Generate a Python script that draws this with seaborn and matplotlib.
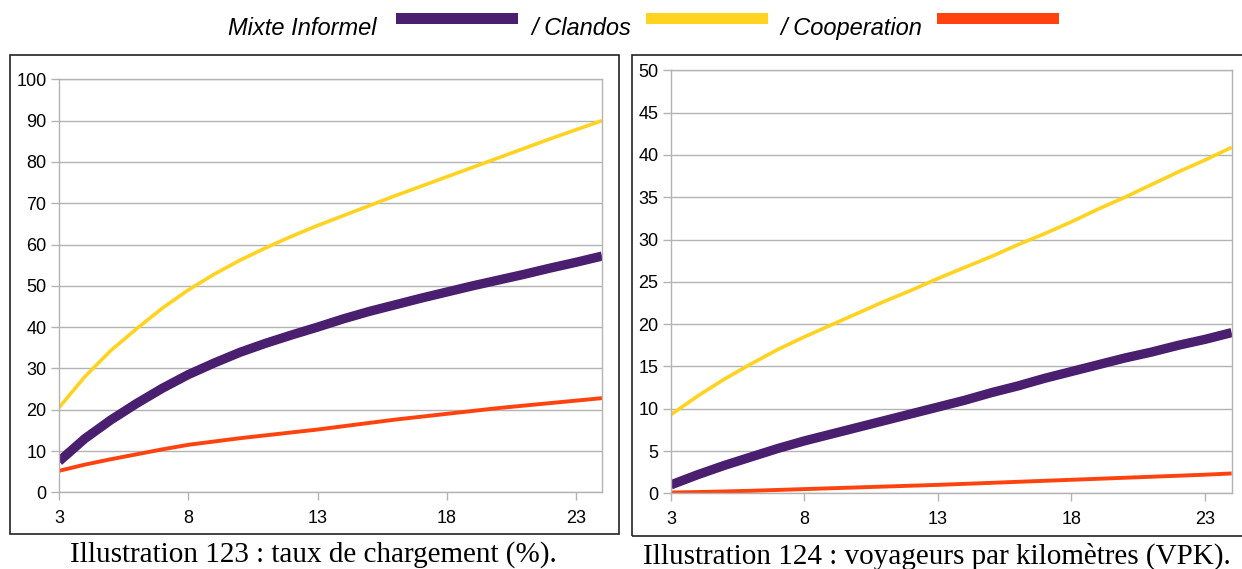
import numpy as np
import pandas as pd
import matplotlib
matplotlib.use("Agg")
import matplotlib.pyplot as plt
from matplotlib.patches import Rectangle
import seaborn as sns

# x categories shared by both panels
x_vals = [3, 4, 5, 6, 7, 8, 9, 10, 11, 12, 13, 14, 15, 16, 17, 18, 19, 20, 21, 22, 23, 24]

# Illustration 123 : taux de chargement (%)
taux_mixte = [7.5, 13.0, 17.5, 21.5, 25.2, 28.5, 31.3, 33.9, 36.1, 38.1, 40.0, 42.0,
              43.8, 45.4, 47.0, 48.5, 50.0, 51.4, 52.8, 54.3, 55.7, 57.2]
taux_clandos = [20.5, 28.0, 34.3, 39.6, 44.6, 49.0, 52.8, 56.2, 59.2, 62.0, 64.6, 67.0,
                69.4, 71.8, 74.1, 76.4, 78.7, 81.0, 83.3, 85.6, 87.8, 90.0]
taux_coop = [5.2, 6.7, 8.0, 9.2, 10.4, 11.5, 12.3, 13.1, 13.8, 14.5, 15.2, 16.0,
             16.8, 17.6, 18.3, 19.0, 19.7, 20.4, 21.0, 21.6, 22.2, 22.8]

# Illustration 124 : voyageurs par kilometres (VPK)
vpk_mixte = [1.0, 2.2, 3.3, 4.3, 5.3, 6.2, 7.0, 7.8, 8.6, 9.4, 10.2, 11.0,
             11.9, 12.7, 13.6, 14.4, 15.2, 16.0, 16.7, 17.5, 18.2, 19.0]
vpk_clandos = [9.3, 11.5, 13.5, 15.3, 17.0, 18.5, 19.9, 21.3, 22.7, 24.0, 25.4, 26.7,
               28.0, 29.4, 30.7, 32.1, 33.6, 35.0, 36.5, 38.0, 39.4, 40.9]
vpk_coop = [0.1, 0.15, 0.22, 0.3, 0.4, 0.5, 0.6, 0.7, 0.8, 0.9, 1.0, 1.12,
            1.24, 1.36, 1.48, 1.6, 1.72, 1.84, 1.96, 2.08, 2.2, 2.35]

series_names = ["Mixte Informel", "Clandos", "Cooperation"]
legend_labels = ["Mixte Informel", "/ Clandos", "/ Cooperation"]
colors = {"Mixte Informel": "#4B1F6F", "Clandos": "#FFD320", "Cooperation": "#FF420E"}
widths = {"Mixte Informel": 6.7, "Clandos": 2.6, "Cooperation": 2.8}

sns.set_style("white")
plt.rcParams["font.family"] = ["Liberation Sans", "DejaVu Sans"]
plt.rcParams["text.color"] = "black"

fig = plt.figure(figsize=(12.42, 5.69), dpi=100)
ax1 = fig.add_axes([0.0475, 0.1348, 0.4372, 0.7258])
ax2 = fig.add_axes([0.5402, 0.1330, 0.4515, 0.7433])

panels = [
    (ax1, [taux_mixte, taux_clandos, taux_coop], 100, 10),
    (ax2, [vpk_mixte, vpk_clandos, vpk_coop], 50, 5),
]

grid_col = "#b3b3b3"
for ax, values, ymax, ystep in panels:
    df = pd.DataFrame({"x": x_vals * 3,
                       "y": values[0] + values[1] + values[2],
                       "serie": [n for n in series_names for _ in x_vals]})
    for name in series_names:
        sns.lineplot(data=df[df["serie"] == name], x="x", y="y", ax=ax,
                     color=colors[name], linewidth=widths[name],
                     solid_capstyle="butt", solid_joinstyle="round", legend=False)
    ax.set_xlim(3, 24)
    ax.set_ylim(0, ymax)
    ax.set_xticks([3, 8, 13, 18, 23])
    ax.set_yticks(np.arange(0, ymax + 1, ystep))
    ax.set_xlabel("")
    ax.set_ylabel("")
    ax.yaxis.grid(True, color=grid_col, linewidth=1.0)
    ax.xaxis.grid(False)
    ax.set_axisbelow(True)
    for sp in ax.spines.values():
        sp.set_visible(True)
        sp.set_color(grid_col)
        sp.set_linewidth(1.0)
    ax.tick_params(axis="both", which="major", length=6, width=1.0, color=grid_col,
                   labelsize=13, labelcolor="black", direction="out",
                   left=True, bottom=True)
    ax.tick_params(axis="y", pad=3)
    ax.tick_params(axis="x", pad=7)

# frames around each panel
fig.add_artist(Rectangle((0.0081, 0.0615), 0.4903, 0.8418, transform=fig.transFigure,
                         fill=False, edgecolor="#222222", linewidth=1.2))
fig.add_artist(Rectangle((0.5085, 0.0580), 0.5, 0.8453, transform=fig.transFigure,
                         fill=False, edgecolor="#222222", linewidth=1.2))

# legend row on top
text_x = [0.1836, 0.4275, 0.6280]
rect_x = [0.3188, 0.5201, 0.7544]
for lab, tx, rx, name in zip(legend_labels, text_x, rect_x, series_names):
    fig.text(tx, 0.950, lab, fontsize=17, style="italic", ha="left", va="center",
             color="black")
    fig.add_artist(Rectangle((rx, 0.9578), 0.0982, 0.0193, transform=fig.transFigure,
                             facecolor=colors[name], edgecolor="none"))

# captions
fig.text(0.252, 0.0135, "Illustration 123 : taux de chargement (%).",
         family=["Liberation Serif", "DejaVu Serif"], fontsize=21, ha="center",
         va="baseline", color="black")
fig.text(0.754, 0.0090, "Illustration 124 : voyageurs par kilomètres (VPK).",
         family=["Liberation Serif", "DejaVu Serif"], fontsize=21, ha="center",
         va="baseline", color="black")

fig.savefig("out.png", dpi=100)
